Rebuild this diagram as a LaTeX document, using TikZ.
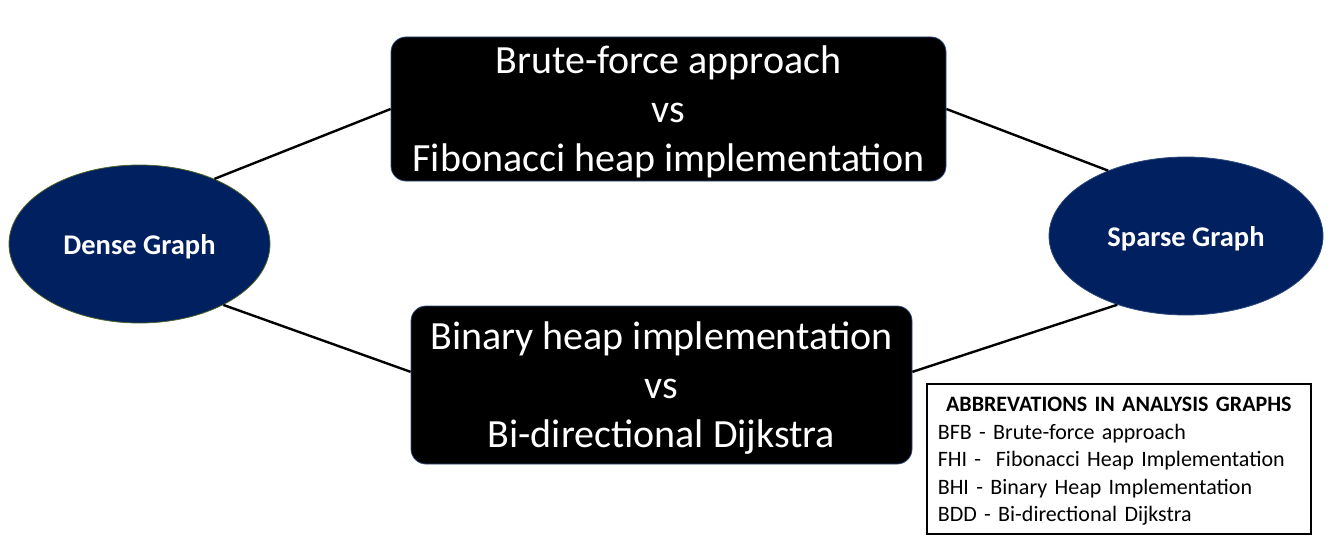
\documentclass[tikz,border=0pt]{standalone}
\usepackage{fontspec}
\setmainfont{Carlito}
\usetikzlibrary{positioning,shapes.geometric}
\definecolor{navy}{HTML}{002060}
\definecolor{rimgreen}{HTML}{4F6228}
\definecolor{rimblue}{HTML}{2F4A7A}
\tikzset{
    graphtype/.style={
        ellipse,
        fill=navy,
        draw=#1, line width=0.8pt,
        inner sep=0pt,
        text depth=0pt,
        text=white,
        font=\fontsize{28.5}{32}\selectfont\bfseries
    },
    compare/.style={
        rectangle,
        rounded corners=15pt,
        fill=black,
        draw=rimblue, line width=0.8pt,
        text=white,
        align=center,
        inner sep=0pt,
        text depth=0pt,
        font=\fontsize{40}{49}\selectfont
    },
    link/.style={draw, line width=2.4pt},
    legend/.style={
        rectangle,
        draw=black, line width=1.6pt,
        text width=362pt,
        minimum height=150pt,
        inner xsep=11pt,
        inner ysep=6pt,
        align=left,
        anchor=north west,
        font=\fontsize{22}{27.5}\selectfont
    }
}
\begin{document}
\begin{tikzpicture}[x=1pt,y=-1pt]
\useasboundingbox (0,0) rectangle (1332,559);

\node[graphtype=rimgreen, minimum width=261pt, minimum height=158pt] (dense) at (139.5,244) {Dense Graph};
\node[graphtype=rimblue, minimum width=274pt, minimum height=158pt] (sparse) at (1186,236) {Sparse Graph};

\node[compare, minimum width=555pt, minimum height=144pt] (brute) at (668.5,109)
    {Brute-force approach\\vs\\Fibonacci heap implementation};
\node[compare, minimum width=501pt, minimum height=158pt] (binary) at (661.5,385)
    {Binary heap implementation\\vs\\Bi-directional Dijkstra};

\draw[link] (dense.41) -- (brute.west);
\draw[link] (brute.east) -- (sparse.140);
\draw[link] (dense.-36) -- (binary.177);
\draw[link] (binary.3) -- (sparse.225);

\node[legend] (abbrev) at (926,383)
    {\rule{0pt}{20pt}\makebox[\linewidth]{\bfseries ABBREVATIONS IN ANALYSIS GRAPHS}\\
     BFB - Brute-force approach\\
     FHI -\ \ Fibonacci Heap Implementation\\
     BHI - Binary Heap Implementation\\
     BDD - Bi-directional Dijkstra};

\end{tikzpicture}
\end{document}
